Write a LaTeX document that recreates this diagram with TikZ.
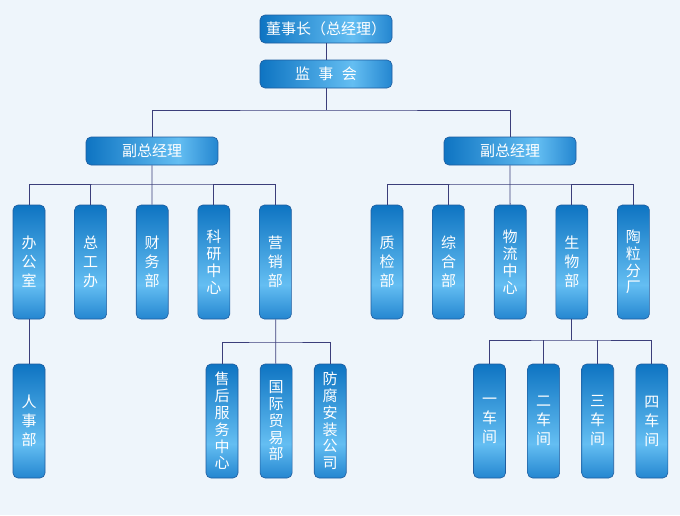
\documentclass[tikz,border=0pt]{standalone}
\usepackage{fontspec}
\newfontfamily\cjk{Noto Sans CJK SC}
\usetikzlibrary{positioning}

\definecolor{bgcol}{HTML}{EEF5FB}
\definecolor{boxedge}{HTML}{1F5C9E}
\definecolor{linkcol}{HTML}{3B3E7A}
\definecolor{boxdark}{HTML}{0E74C2}
\definecolor{boxlight}{HTML}{64BEF2}
\definecolor{boxmid}{HTML}{2486D0}

\pgfdeclareverticalshading{vshade}{100bp}{color(0bp)=(boxmid); color(25bp)=(boxmid); color(40bp)=(boxlight); color(75bp)=(boxdark); color(100bp)=(boxdark)}
\pgfdeclarehorizontalshading{hshade}{100bp}{color(0bp)=(boxdark); color(25bp)=(boxdark); color(60bp)=(boxlight); color(75bp)=(boxmid); color(100bp)=(boxmid)}

\begin{document}
\begin{tikzpicture}[
  x=1pt, y=-1pt,
  node distance=29pt,
  hbox/.style={draw=boxedge, line width=0.6pt, rounded corners=5pt, align=center, shading=hshade, text=white,
    minimum width=132pt, minimum height=28pt, font=\cjk\fontsize{15}{18}\selectfont},
  vbox/.style={draw=boxedge, line width=0.6pt, rounded corners=5pt, align=center, shading=vshade, text=white,
    minimum width=32pt, minimum height=114pt, inner sep=1pt, font=\cjk\fontsize{15}{16.8}\selectfont},
  short/.style={font=\cjk\fontsize{15}{19}\selectfont},
  link/.style={draw=linkcol, line width=0.8pt}
]
\fill[bgcol] (0,0) rectangle (680,515);
\useasboundingbox (0,0) rectangle (680,515);

% top levels
\node[hbox] (dsz) at (326,29) {董事长（总经理）};
\node[hbox] (jsh) at (326,74) {监\hspace{8.5pt}事\hspace{8.5pt}会};
\node[hbox] (fzlL) at (152,151) {副总经理};
\node[hbox] (fzlR) at (510,151) {副总经理};

% left departments
\node[vbox, short] (bgs) at (29,262) {办\\公\\室};
\node[vbox, short, right=of bgs] (zgb) {总\\工\\办};
\node[vbox, short, right=of zgb] (cwb) {财\\务\\部};
\node[vbox, right=of cwb] (kyzx) {科\\研\\中\\心};
\node[vbox, short, right=of kyzx] (yxb) {营\\销\\部};

% right departments
\node[vbox, short] (zjb) at (387,262) {质\\检\\部};
\node[vbox, short, right=of zjb] (zhb) {综\\合\\部};
\node[vbox, right=of zhb] (wlzx) {物\\流\\中\\心};
\node[vbox, short, right=of wlzx] (swb) {生\\物\\部};
\node[vbox, right=of swb] (tlfc) {陶\\粒\\分\\厂};

% bottom row
\node[vbox, short] (rsb) at (29,421) {人\\事\\部};
\node[vbox] (shfw) at (222,421) {售\\后\\服\\务\\中\\心};
\node[vbox, right=21.5pt of shfw] (gjmy) {国\\际\\贸\\易\\部};
\node[vbox, right=21.5pt of gjmy] (ffaz) {防\\腐\\安\\装\\公\\司};
\node[vbox, short] (cj1) at (489.5,421) {一\\车\\间};
\node[vbox, short, right=21.5pt of cj1] (cj2) {二\\车\\间};
\node[vbox, short, right=21.5pt of cj2] (cj3) {三\\车\\间};
\node[vbox, short, right=21.5pt of cj3] (cj4) {四\\车\\间};

% connectors
\coordinate (bus1) at (326,110);
\draw[link] (dsz) -- (jsh);
\draw[link] (jsh) -- (bus1);
\draw[link] (fzlL) |- (bus1) -| (fzlR);

\draw[link] (fzlL) -- (cwb);
\draw[link] (bgs) |- (fzlL |- 0,184) -| (yxb);
\draw[link] (zgb) -- (zgb |- 0,184);
\draw[link] (kyzx) -- (kyzx |- 0,184);

\draw[link] (fzlR) -- (wlzx);
\draw[link] (zjb) |- (fzlR |- 0,184) -| (tlfc);
\draw[link] (zhb) -- (zhb |- 0,184);
\draw[link] (swb) -- (swb |- 0,184);

\draw[link] (bgs) -- (rsb);

\draw[link] (yxb) -- (gjmy);
\draw[link] (shfw) |- (yxb |- 0,342) -| (ffaz);

\draw[link] (swb) -- (swb |- 0,340);
\draw[link] (cj1) |- (swb |- 0,340) -| (cj4);
\draw[link] (cj2) -- (cj2 |- 0,340);
\draw[link] (cj3) -- (cj3 |- 0,340);

\end{tikzpicture}
\end{document}
